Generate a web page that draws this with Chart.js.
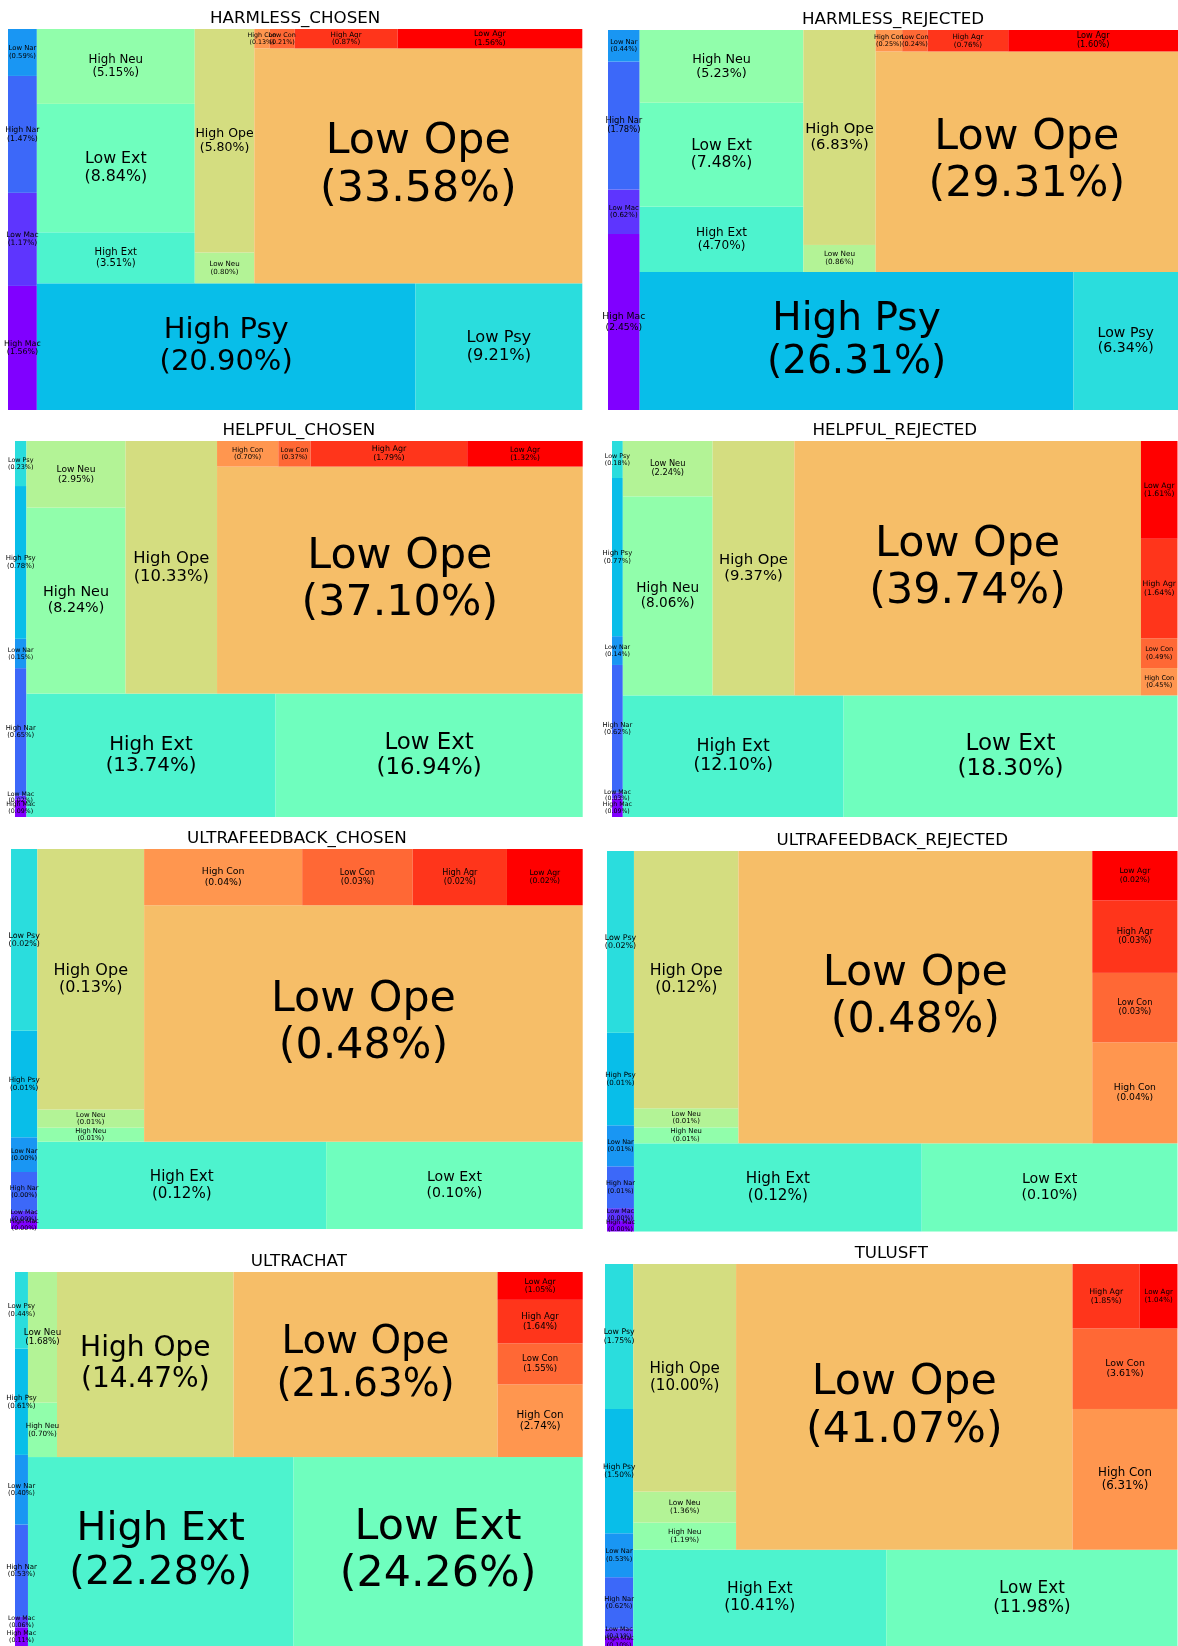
<!DOCTYPE html>
<html>
<head>
<meta charset="utf-8">
<script src="https://cdn.jsdelivr.net/npm/chart.js@4.4.0/dist/chart.umd.min.js"></script>
<style>
body { margin: 0; background: #fff; width: 1178px; height: 1646px; position: relative; overflow: hidden; }
canvas { position: absolute; }
</style>
</head>
<body>
<script>
// Trait categories, in the order the treemaps lay them out
const categories = ['High Mac', 'Low Mac', 'High Nar', 'Low Nar', 'High Psy', 'Low Psy',
    'High Ext', 'Low Ext', 'High Neu', 'Low Neu', 'High Ope', 'Low Ope',
    'High Con', 'Low Con', 'High Agr', 'Low Agr'];

// Percentages per dataset (same order as categories)
const harmlessChosen = [1.56, 1.17, 1.47, 0.59, 20.90, 9.21, 3.51, 8.84, 5.15, 0.80, 5.80, 33.58, 0.13, 0.21, 0.87, 1.56];
const harmlessRejected = [2.45, 0.62, 1.78, 0.44, 26.31, 6.34, 4.70, 7.48, 5.23, 0.86, 6.83, 29.31, 0.25, 0.24, 0.76, 1.60];
const helpfulChosen = [0.09, 0.02, 0.65, 0.15, 0.78, 0.23, 13.74, 16.94, 8.24, 2.95, 10.33, 37.10, 0.70, 0.37, 1.79, 1.32];
const helpfulRejected = [0.09, 0.03, 0.62, 0.14, 0.77, 0.18, 12.10, 18.30, 8.06, 2.24, 9.37, 39.74, 0.45, 0.49, 1.64, 1.61];
const ultrafeedbackChosen = [0.0010, 0.0012, 0.0047, 0.0042, 0.0129, 0.0220, 0.1160, 0.1030, 0.0069, 0.0089, 0.1280, 0.4770, 0.0409, 0.0286, 0.0244, 0.0196];
const ultrafeedbackRejected = [0.0013, 0.0016, 0.0052, 0.0051, 0.0115, 0.0226, 0.1170, 0.1040, 0.0077, 0.0092, 0.1240, 0.4770, 0.0397, 0.0273, 0.0285, 0.0194];
const ultrachat = [0.11, 0.06, 0.53, 0.40, 0.61, 0.44, 22.28, 24.26, 0.70, 1.68, 14.47, 21.63, 2.74, 1.55, 1.64, 1.05];
const tulusft = [0.10, 0.11, 0.62, 0.53, 1.50, 1.75, 10.41, 11.98, 1.19, 1.36, 10.00, 41.07, 6.31, 3.61, 1.85, 1.04];

const panelTitles = ['HARMLESS_CHOSEN', 'HARMLESS_REJECTED', 'HELPFUL_CHOSEN', 'HELPFUL_REJECTED',
    'ULTRAFEEDBACK_CHOSEN', 'ULTRAFEEDBACK_REJECTED', 'ULTRACHAT', 'TULUSFT'];
const panelValues = [harmlessChosen, harmlessRejected, helpfulChosen, helpfulRejected,
    ultrafeedbackChosen, ultrafeedbackRejected, ultrachat, tulusft];

// plot area of each panel on the page: left, top, width, height
const panelBoxes = [
    [8.4, 28.5, 574.3, 381],
    [607.5, 29.5, 570, 380],
    [15, 441, 567.7, 376],
    [612, 441, 565.5, 376],
    [11, 848.5, 571.7, 380],
    [607, 850.5, 570.5, 380.5],
    [15, 1271.5, 567.7, 374.5],
    [605, 1264, 572.5, 382]
];

// matplotlib 'rainbow' colormap
function rainbow(t) {
    const r = Math.min(1, Math.abs(2 * t - 0.5));
    const g = Math.sin(Math.PI * t);
    const b = Math.cos(Math.PI * t / 2);
    return `rgb(${Math.round(r * 255)}, ${Math.round(g * 255)}, ${Math.round(b * 255)})`;
}
const palette = categories.map((c, i) => rainbow(i / (categories.length - 1)));

// squarify layout (same algorithm as python squarify)
function sum(a) { return a.reduce((s, v) => s + v, 0); }
function layoutRow(sizes, x, y, dx, dy) {
    const width = sum(sizes) / dy;
    return sizes.map(s => { const r = { x: x, y: y, dx: width, dy: s / width }; y += s / width; return r; });
}
function layoutCol(sizes, x, y, dx, dy) {
    const height = sum(sizes) / dx;
    return sizes.map(s => { const r = { x: x, y: y, dx: s / height, dy: height }; x += s / height; return r; });
}
function layout(sizes, x, y, dx, dy) {
    return dx >= dy ? layoutRow(sizes, x, y, dx, dy) : layoutCol(sizes, x, y, dx, dy);
}
function leftover(sizes, x, y, dx, dy) {
    if (dx >= dy) {
        const width = sum(sizes) / dy;
        return [x + width, y, dx - width, dy];
    }
    const height = sum(sizes) / dx;
    return [x, y + height, dx, dy - height];
}
function worstRatio(sizes, x, y, dx, dy) {
    return Math.max(...layout(sizes, x, y, dx, dy).map(r => Math.max(r.dx / r.dy, r.dy / r.dx)));
}
function squarify(sizes, x, y, dx, dy) {
    if (sizes.length === 0) return [];
    if (sizes.length === 1) return layout(sizes, x, y, dx, dy);
    let i = 1;
    while (i < sizes.length && worstRatio(sizes.slice(0, i), x, y, dx, dy) >= worstRatio(sizes.slice(0, i + 1), x, y, dx, dy)) {
        i++;
    }
    const current = sizes.slice(0, i);
    const rest = leftover(current, x, y, dx, dy);
    return layout(current, x, y, dx, dy).concat(squarify(sizes.slice(i), rest[0], rest[1], rest[2], rest[3]));
}
function normalizeSizes(sizes, dx, dy) {
    const total = sum(sizes);
    return sizes.map(s => s * dx * dy / total);
}

// draws the tiles and their labels through the chart's x / y scales
const treemapPlugin = {
    id: 'treemap',
    afterDatasetsDraw(chart) {
        const ds = chart.data.datasets[0];
        const xs = chart.scales.x, ys = chart.scales.y;
        const ctx = chart.ctx;
        const maxVal = Math.max(...ds.values);
        ctx.save();
        ds.rects.forEach((r, i) => {
            const x0 = xs.getPixelForValue(r.x), x1 = xs.getPixelForValue(r.x + r.dx);
            const y0 = ys.getPixelForValue(r.y + r.dy), y1 = ys.getPixelForValue(r.y);
            ctx.fillStyle = palette[i];
            ctx.fillRect(x0, y0, x1 - x0, y1 - y0);
        });
        ctx.fillStyle = '#000';
        ctx.textAlign = 'center';
        ctx.textBaseline = 'middle';
        ds.rects.forEach((r, i) => {
            const v = ds.values[i];
            const fs = 6.2 + 36.6 * v / maxVal;
            const cx = xs.getPixelForValue(r.x + r.dx / 2);
            const cy = ys.getPixelForValue(r.y + r.dy / 2);
            const lh = fs * 1.1;
            ctx.font = `${fs}px "DejaVu Sans"`;
            ctx.fillText(categories[i], cx, cy - lh / 2);
            ctx.fillText(`(${v.toFixed(2)}%)`, cx, cy + lh / 2);
        });
        ctx.restore();
    }
};

const M = 10;   // room around the plot for overflowing labels
const T = 30;   // room above the plot for the title

panelValues.forEach((values, p) => {
    const [left, top, w, h] = panelBoxes[p];
    const canvas = document.createElement('canvas');
    canvas.width = Math.round(w + 2 * M);
    canvas.height = Math.round(h + T + M);
    canvas.style.left = (left - M) + 'px';
    canvas.style.top = (top - T) + 'px';
    canvas.style.width = canvas.width + 'px';
    canvas.style.height = canvas.height + 'px';
    document.body.appendChild(canvas);

    const rects = squarify(normalizeSizes(values, 100, 100), 0, 0, 100, 100);

    new Chart(canvas.getContext('2d'), {
        type: 'scatter',
        data: {
            datasets: [{
                data: rects.map(r => ({ x: r.x + r.dx / 2, y: r.y + r.dy / 2 })),
                rects: rects,
                values: values,
                pointRadius: 0
            }]
        },
        options: {
            responsive: false,
            animation: false,
            devicePixelRatio: 1,
            layout: { padding: { left: M, right: canvas.width - M - w, top: 0, bottom: canvas.height - T - h } },
            scales: {
                x: { type: 'linear', min: 0, max: 100, display: false },
                y: { type: 'linear', min: 0, max: 100, display: false }
            },
            plugins: {
                legend: { display: false },
                tooltip: { enabled: false },
                title: {
                    display: true,
                    text: panelTitles[p],
                    color: '#000',
                    font: { family: 'DejaVu Sans', size: 16.7, weight: 'normal' },
                    padding: { top: T - 20.04 - 0.4, bottom: 0.4 }
                }
            }
        },
        plugins: [treemapPlugin]
    });
});
</script>
</body>
</html>
